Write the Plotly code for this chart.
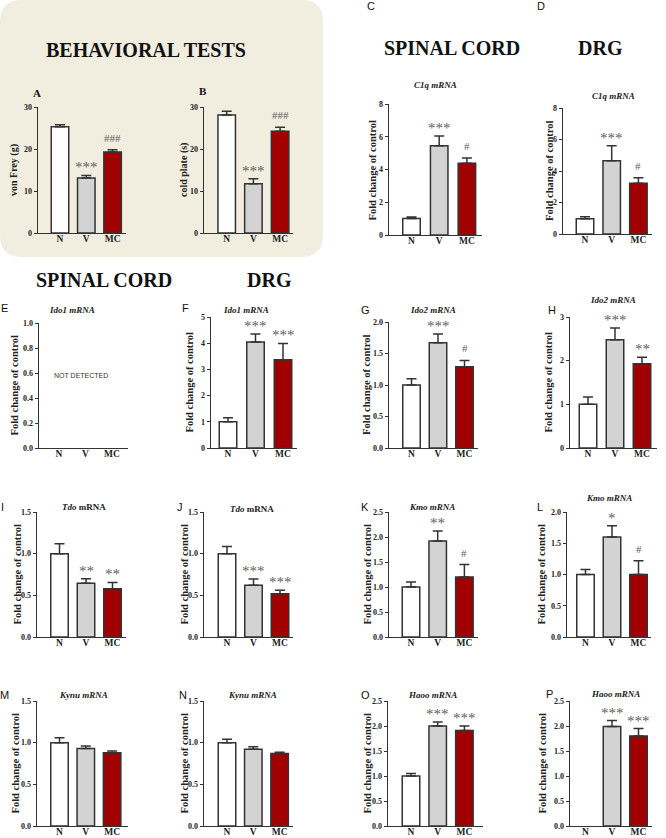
import plotly.graph_objects as go

W, H = 666, 838

# ---------------- data ----------------
groups = ["N", "V", "MC"]
bar_colors = ["#FFFFFF", "#D3D3D3", "#A00000"]

vonfrey_mean = [25.3, 13.1, 19.3]
vonfrey_sem = [0.5, 0.6, 0.5]
vonfrey_sig = ["", "***", "###"]

coldplate_mean = [28.1, 11.7, 24.2]
coldplate_sem = [0.9, 1.2, 1.0]
coldplate_sig = ["", "***", "###"]

c1q_sc_mean = [1.0, 5.45, 4.38]
c1q_sc_sem = [0.1, 0.6, 0.32]
c1q_sc_sig = ["", "***", "#"]

c1q_drg_mean = [0.97, 4.65, 3.22]
c1q_drg_sem = [0.13, 0.95, 0.35]
c1q_drg_sig = ["", "***", "#"]

ido1_sc_mean = [None, None, None]
ido1_sc_sem = [None, None, None]
ido1_sc_sig = ["", "", ""]

ido1_drg_mean = [1.0, 4.05, 3.37]
ido1_drg_sem = [0.15, 0.3, 0.62]
ido1_drg_sig = ["", "***", "***"]

ido2_sc_mean = [1.0, 1.67, 1.29]
ido2_sc_sem = [0.1, 0.14, 0.1]
ido2_sc_sig = ["", "***", "#"]

ido2_drg_mean = [1.0, 2.48, 1.93]
ido2_drg_sem = [0.17, 0.27, 0.15]
ido2_drg_sig = ["", "***", "**"]

tdo_sc_mean = [1.0, 0.645, 0.58]
tdo_sc_sem = [0.12, 0.055, 0.075]
tdo_sc_sig = ["", "**", "**"]

tdo_drg_mean = [1.0, 0.62, 0.52]
tdo_drg_sem = [0.085, 0.075, 0.04]
tdo_drg_sig = ["", "***", "***"]

kmo_sc_mean = [1.0, 1.92, 1.2]
kmo_sc_sem = [0.1, 0.2, 0.25]
kmo_sc_sig = ["", "**", "#"]

kmo_drg_mean = [1.0, 1.6, 1.0]
kmo_drg_sem = [0.08, 0.18, 0.22]
kmo_drg_sig = ["", "*", "#"]

kynu_sc_mean = [1.0, 0.93, 0.88]
kynu_sc_sem = [0.06, 0.03, 0.02]
kynu_sc_sig = ["", "", ""]

kynu_drg_mean = [1.0, 0.92, 0.87]
kynu_drg_sem = [0.04, 0.03, 0.015]
kynu_drg_sig = ["", "", ""]

haoo_sc_mean = [1.0, 2.0, 1.91]
haoo_sc_sem = [0.05, 0.08, 0.09]
haoo_sc_sig = ["", "***", "***"]

haoo_drg_mean = [None, 1.99, 1.8]
haoo_drg_sem = [None, 0.12, 0.15]
haoo_drg_sig = ["", "***", "***"]

FOLD = "Fold change of control"

# ---------------- layout of panels (pixel geometry) ----------------
panels = [
    dict(L="A", m=vonfrey_mean, s=vonfrey_sem, g=vonfrey_sig, ymax=30, dt=10, fmt="d",
         ax=38, right=126, c0=60, sp=26.3, y0=233, yt=107, yl="von Frey (g)", ylx=14,
         t=None, lx=37, ly=93, serif_letter=True),
    dict(L="B", m=coldplate_mean, s=coldplate_sem, g=coldplate_sig, ymax=30, dt=10, fmt="d",
         ax=204, right=293, c0=226.7, sp=26.7, y0=233, yt=107, yl="cold plate (s)", ylx=184,
         t=None, lx=203, ly=91, serif_letter=True),
    dict(L="C", m=c1q_sc_mean, s=c1q_sc_sem, g=c1q_sc_sig, ymax=8, dt=2, fmt="d",
         ax=389, right=482, c0=411.5, sp=27.7, y0=235, yt=104, yl=FOLD, ylx=372,
         t="<b><i>C1q mRNA</i></b>", tx=435, ty=85, lx=371, ly=6),
    dict(L="D", m=c1q_drg_mean, s=c1q_drg_sem, g=c1q_drg_sig, ymax=8, dt=2, fmt="d",
         ax=563, right=652, c0=585, sp=26.7, y0=234, yt=108, yl=FOLD, ylx=550,
         t="<b><i>C1q mRNA</i></b>", tx=613, ty=96, lx=541, ly=6),
    dict(L="E", m=ido1_sc_mean, s=ido1_sc_sem, g=ido1_sc_sig, ymax=1.0, dt=0.2, fmt=".1f",
         ax=39, right=128, c0=59, sp=26.5, y0=448, yt=323, yl=FOLD, ylx=14,
         t="<b><i>Ido1 mRNA</i></b>", tx=72, ty=310, lx=4, ly=308),
    dict(L="F", m=ido1_drg_mean, s=ido1_drg_sem, g=ido1_drg_sig, ymax=5, dt=1, fmt="d",
         ax=211, right=297, c0=228, sp=27.5, y0=448, yt=317, yl=FOLD, ylx=189,
         t="<b><i>Ido1 mRNA</i></b>", tx=246, ty=310, lx=185, ly=308),
    dict(L="G", m=ido2_sc_mean, s=ido2_sc_sem, g=ido2_sc_sig, ymax=2.0, dt=0.5, fmt=".1f",
         ax=389, right=478, c0=411.5, sp=26.5, y0=448, yt=322, yl=FOLD, ylx=367,
         t="<b><i>Ido2 mRNA</i></b>", tx=433, ty=310, lx=365, ly=310),
    dict(L="H", m=ido2_drg_mean, s=ido2_drg_sem, g=ido2_drg_sig, ymax=3, dt=1, fmt="d",
         ax=570, right=657, c0=588, sp=27, y0=448, yt=317, yl=FOLD, ylx=548,
         t="<b><i>Ido2 mRNA</i></b>", tx=613, ty=300, lx=552, ly=310),
    dict(L="I", m=tdo_sc_mean, s=tdo_sc_sem, g=tdo_sc_sig, ymax=1.5, dt=0.5, fmt=".1f",
         ax=37, right=126, c0=59.5, sp=26.5, y0=637, yt=512, yl=FOLD, ylx=17,
         t="<b><i>Tdo</i> mRNA</b>", tx=84, ty=507, lx=2, ly=507),
    dict(L="J", m=tdo_drg_mean, s=tdo_drg_sem, g=tdo_drg_sig, ymax=1.5, dt=0.5, fmt=".1f",
         ax=204, right=293, c0=227, sp=26.5, y0=637, yt=512, yl=FOLD, ylx=184,
         t="<b><i>Tdo</i> mRNA</b>", tx=252, ty=509, lx=180, ly=507),
    dict(L="K", m=kmo_sc_mean, s=kmo_sc_sem, g=kmo_sc_sig, ymax=2.5, dt=0.5, fmt=".1f",
         ax=389, right=478, c0=411, sp=26.7, y0=637, yt=512, yl=FOLD, ylx=367,
         t="<b><i>Kmo mRNA</i></b>", tx=432, ty=507, lx=365, ly=507),
    dict(L="L", m=kmo_drg_mean, s=kmo_drg_sem, g=kmo_drg_sig, ymax=2.0, dt=0.5, fmt=".1f",
         ax=567, right=651, c0=585.5, sp=26.5, y0=637, yt=512, yl=FOLD, ylx=541,
         t="<b><i>Kmo mRNA</i></b>", tx=609, ty=498, lx=540, ly=507),
    dict(L="M", m=kynu_sc_mean, s=kynu_sc_sem, g=kynu_sc_sig, ymax=1.5, dt=0.5, fmt=".1f",
         ax=37, right=128, c0=59.5, sp=26.3, y0=826, yt=701, yl=FOLD, ylx=15,
         t="<b><i>Kynu mRNA</i></b>", tx=84, ty=695, lx=4, ly=695),
    dict(L="N", m=kynu_drg_mean, s=kynu_drg_sem, g=kynu_drg_sig, ymax=1.5, dt=0.5, fmt=".1f",
         ax=204, right=293, c0=227, sp=26.3, y0=826, yt=701, yl=FOLD, ylx=184,
         t="<b><i>Kynu mRNA</i></b>", tx=252, ty=695, lx=183, ly=695),
    dict(L="O", m=haoo_sc_mean, s=haoo_sc_sem, g=haoo_sc_sig, ymax=2.5, dt=0.5, fmt=".1f",
         ax=388, right=483, c0=411, sp=26.7, y0=826, yt=701, yl=FOLD, ylx=367,
         t="<b><i>Haoo mRNA</i></b>", tx=432, ty=695, lx=365, ly=695),
    dict(L="P", m=haoo_drg_mean, s=haoo_drg_sem, g=haoo_drg_sig, ymax=2.5, dt=0.5, fmt=".1f",
         ax=570, right=652, c0=585.5, sp=26.5, y0=826, yt=701, yl=FOLD, ylx=542,
         t="<b><i>Haoo mRNA</i></b>", tx=615, ty=694, lx=549, ly=694),
]

SERIF = "Liberation Serif"
SANS = "Liberation Sans"
LINE = "#333333"
SIGC = "#606060"
TXT = "#222222"


def px(x):
    return x / W


def py(y):
    return 1 - y / H


fig = go.Figure()
annotations = []
layout_axes = {}

for i, p in enumerate(panels, start=1):
    xa = "x" if i == 1 else f"x{i}"
    ya = "y" if i == 1 else f"y{i}"
    xkey = "xaxis" if i == 1 else f"xaxis{i}"
    ykey = "yaxis" if i == 1 else f"yaxis{i}"
    sp = p["sp"]
    fig.add_trace(go.Bar(
        x=[0, 1, 2], y=p["m"], xaxis=xa, yaxis=ya,
        width=17.5 / sp,
        marker=dict(color=bar_colors, line=dict(color=LINE, width=1.5)),
        error_y=dict(type="data", array=p["s"], arrayminus=[0, 0, 0], symmetric=False,
                     color=LINE, thickness=1.5, width=5),
        showlegend=False, hoverinfo="skip",
    ))
    layout_axes[xkey] = dict(
        domain=[px(p["ax"]), px(p["right"])],
        range=[(p["ax"] - p["c0"]) / sp, (p["right"] - p["c0"]) / sp],
        anchor=ya, showline=True, linecolor=LINE, linewidth=1.3,
        ticks="", tickmode="array", tickvals=[0, 1, 2], ticktext=groups,
        ticklabelstandoff=-4,
        tickfont=dict(family=SERIF, size=9.5, color=TXT, weight="bold"),
        showgrid=False, zeroline=False, fixedrange=True,
    )
    layout_axes[ykey] = dict(
        domain=[py(p["y0"]), py(p["yt"])],
        range=[0, p["ymax"]], anchor=xa,
        showline=True, linecolor=LINE, linewidth=1.3,
        ticks="outside", ticklen=3, tickwidth=1, tickcolor=LINE,
        tick0=0, dtick=p["dt"], tickformat=p["fmt"],
        tickfont=dict(family=SERIF, size=8, color=TXT, weight="bold"),
        showgrid=False, zeroline=False, fixedrange=True,
    )
    # significance marks
    for k in range(3):
        lab = p["g"][k]
        if lab and p["m"][k] is not None:
            star = lab.startswith("*")
            annotations.append(dict(
                x=k, y=p["m"][k] + p["s"][k], xref=xa, yref=ya,
                text=lab, showarrow=False, xanchor="center", yanchor="bottom",
                yshift=(-2 if star else 4),
                font=dict(family=SERIF, size=(15 if star else 11), color=SIGC),
            ))
    # y-axis title
    axis_mid = (p["y0"] + p["yt"]) / 2
    annotations.append(dict(
        x=px(p["ylx"]), y=py(axis_mid), xref="paper", yref="paper",
        text=f"<b>{p['yl']}</b>", textangle=-90, showarrow=False,
        xanchor="center", yanchor="middle",
        font=dict(family=SERIF, size=(10 if p["yl"] != FOLD else 10.5), color=TXT),
    ))
    # panel title
    if p.get("t"):
        annotations.append(dict(
            x=px(p["tx"]), y=py(p["ty"]), xref="paper", yref="paper",
            text=p["t"], showarrow=False, xanchor="center", yanchor="middle",
            font=dict(family=SERIF, size=9, color=TXT),
        ))
    # panel letter
    if p.get("serif_letter"):
        annotations.append(dict(
            x=px(p["lx"]), y=py(p["ly"]), xref="paper", yref="paper",
            text=f"<b>{p['L']}</b>", showarrow=False, xanchor="center", yanchor="middle",
            font=dict(family=SERIF, size=11, color="#111111"),
        ))
    else:
        annotations.append(dict(
            x=px(p["lx"]), y=py(p["ly"]), xref="paper", yref="paper",
            text=p["L"], showarrow=False, xanchor="center", yanchor="middle",
            font=dict(family=SANS, size=11, color="#111111"),
        ))

# headings
headings = [
    ("BEHAVIORAL TESTS", 146, 50),
    ("SPINAL CORD", 452, 48),
    ("DRG", 600, 48),
    ("SPINAL CORD", 104, 280),
    ("DRG", 269, 280),
]
for txt, hx, hy in headings:
    annotations.append(dict(
        x=px(hx), y=py(hy), xref="paper", yref="paper", text=f"<b>{txt}</b>",
        showarrow=False, xanchor="center", yanchor="middle",
        font=dict(family=SERIF, size=20, color="#111111"),
    ))

annotations.append(dict(
    x=px(81), y=py(375), xref="paper", yref="paper", text="NOT DETECTED",
    showarrow=False, xanchor="center", yanchor="middle",
    font=dict(family=SANS, size=7, color="#333333"),
))


# beige rounded box behind behavioural tests
def P(x, y):
    return f"{px(x):.5f},{py(y):.5f}"


x0, y0, x1, y1, r = 0, 0, 323, 257, 22
path = (f"M {P(x0 + r, y0)} L {P(x1 - r, y0)} Q {P(x1, y0)} {P(x1, y0 + r)} "
        f"L {P(x1, y1 - r)} Q {P(x1, y1)} {P(x1 - r, y1)} L {P(x0 + r, y1)} "
        f"Q {P(x0, y1)} {P(x0, y1 - r)} L {P(x0, y0 + r)} Q {P(x0, y0)} {P(x0 + r, y0)} Z")

fig.update_layout(
    template="none",
    width=W, height=H, margin=dict(l=0, r=0, t=0, b=0),
    font=dict(family=SERIF, color=TXT),
    paper_bgcolor="white", plot_bgcolor="rgba(0,0,0,0)",
    annotations=annotations,
    shapes=[dict(type="path", path=path, xref="paper", yref="paper",
                 fillcolor="#F1EDDF", line=dict(width=0), layer="below")],
    bargap=0, showlegend=False,
    **layout_axes,
)

fig.write_html(
    "out.html",
    config={"displayModeBar": False, "staticPlot": True},
    post_script="document.body.style.margin='0';document.body.style.padding='0';"
                "document.documentElement.style.overflow='hidden';",
)
